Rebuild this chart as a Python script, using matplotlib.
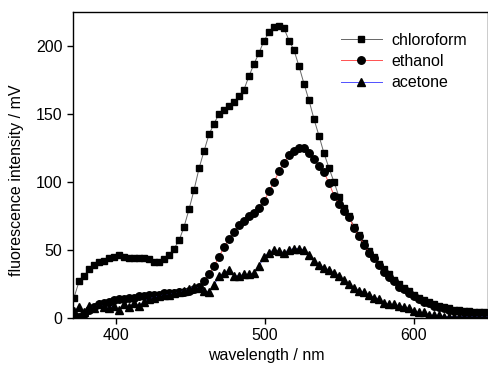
import numpy as np
import matplotlib
matplotlib.use("Agg")
import matplotlib.pyplot as plt

plt.rcParams['font.family'] = ['Liberation Sans', 'DejaVu Sans']

# wavelength grid (nm), one reading every ~3.36 nm
wavelength = np.round(371.8 + 3.36 * np.arange(84), 1)

chloroform = [15, 27, 31, 36, 39, 41, 42, 44, 45, 46,
              45, 44, 44, 44, 44, 43, 41, 41, 43, 46,
              51, 57, 67, 80, 94, 110, 123, 135, 143, 150,
              153, 156, 159, 163, 168, 178, 187, 195, 204, 210,
              214, 215, 213, 204, 197, 185, 172, 160, 146, 134,
              121, 110, 100, 89, 81, 75, 67, 61, 55, 49,
              45, 40, 36, 32, 28, 25, 22, 20, 17, 15,
              13, 12, 10, 9, 8, 7, 6, 6, 5, 5,
              4, 4, 4, 3]

ethanol = [0, 1, 3, 6, 8, 10, 11, 12, 13, 14,
           14, 15, 15, 16, 16, 17, 17, 17, 18, 18,
           18, 19, 19, 20, 21, 23, 27, 32, 38, 45,
           52, 58, 63, 68, 71, 75, 77, 81, 86, 93,
           100, 108, 114, 120, 123, 125, 125, 121, 117, 112,
           107, 99, 90, 84, 79, 74, 66, 60, 54, 48,
           44, 39, 34, 30, 27, 23, 21, 18, 16, 14,
           12, 11, 9, 8, 7, 6, 5, 5, 4, 4,
           3, 3, 3, 3]

acetone = [5, 8, 4, 9, 7, 10, 8, 7, 9, 6,
           10, 8, 11, 9, 12, 14, 15, 16, 17, 17,
           18, 19, 20, 21, 23, 22, 20, 19, 24, 31,
           33, 35, 31, 31, 32, 32, 33, 38, 45, 48,
           50, 49, 48, 50, 51, 51, 50, 46, 42, 39,
           37, 35, 33, 31, 28, 25, 22, 20, 19, 17,
           15, 14, 11, 10, 10, 9, 8, 7, 5, 4,
           4, 2, 2, 2, 1, 1, 1, 1, 1, 1,
           1, 1, 1, 1]

fig = plt.figure(figsize=(4.89, 3.65), dpi=100)
ax = fig.add_axes([0.149, 0.129, 0.849, 0.838])

ax.plot(wavelength, chloroform, color='#666666', lw=0.7, marker='s', ms=4.8,
        mfc='black', mec='black', label='chloroform')
ax.plot(wavelength, ethanol, color='#ff5050', lw=0.7, marker='o', ms=5.4,
        mfc='black', mec='black', label='ethanol')
ax.plot(wavelength, acetone, color='#5050ff', lw=0.7, marker='^', ms=5.6,
        mfc='black', mec='black', label='acetone')

ax.set_xlim(371, 650)
ax.set_ylim(0, 225)
ax.set_xticks([400, 500, 600])
ax.set_yticks([0, 50, 100, 150, 200])
ax.tick_params(direction='out', length=4, width=1, labelsize=11.5,
               top=False, right=False)
for s in ax.spines.values():
    s.set_linewidth(1.0)

ax.set_xlabel('wavelength / nm', fontsize=11.5)
ax.set_ylabel('fluorescence intensity / mV', fontsize=11.5)
ax.xaxis.set_label_coords(0.467, -0.097)
ax.yaxis.set_label_coords(-0.118, 0.45)

ax.legend(loc='upper right', frameon=False, fontsize=11.5, handlelength=2.6,
          handletextpad=0.6, labelspacing=0.4, bbox_to_anchor=(0.985, 0.98))

fig.savefig('out.png', dpi=100)
